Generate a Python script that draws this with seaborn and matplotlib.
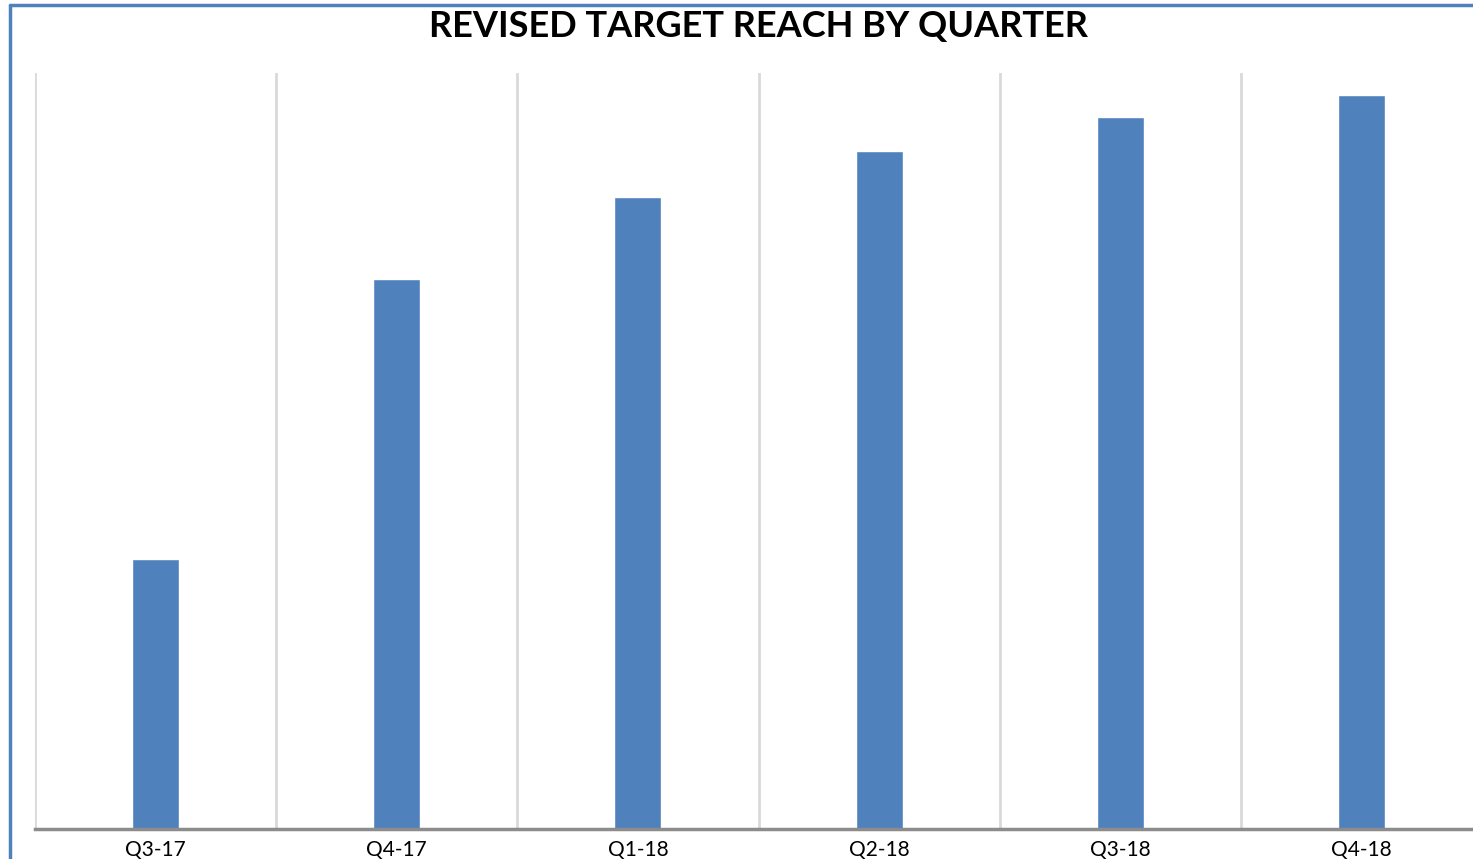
import matplotlib
matplotlib.use("Agg")
import matplotlib.pyplot as plt
import seaborn as sns
import pandas as pd
from matplotlib.lines import Line2D

quarters = ["Q3-17", "Q4-17", "Q1-18", "Q2-18", "Q3-18", "Q4-18"]
reach = [270, 550, 632, 678, 712, 734]
y_top = 756

df = pd.DataFrame({"quarter": quarters, "reach": reach})

sns.set_style("white")
plt.rcParams["font.family"] = ["Lato", "DejaVu Sans"]

fig = plt.figure(figsize=(14.73, 8.59), dpi=100)
ax = fig.add_axes([35 / 1473, 30 / 859, (1482 - 35) / 1473, (829 - 73) / 859])

sns.barplot(data=df, x="quarter", y="reach", color="#4F81BD", saturation=1,
            width=0.195, ax=ax)

ax.set_xlim(-0.5, len(quarters) - 0.5)
ax.set_ylim(0, y_top)
ax.set_xticks(range(len(quarters)))
ax.set_xticklabels(quarters, fontsize=15, color="#000000")
ax.set_xticks([i - 0.5 for i in range(len(quarters) + 1)], minor=True)
ax.xaxis.grid(True, which="minor", color="#D9D9D9", linewidth=2)
ax.set_axisbelow(True)
ax.tick_params(axis="x", which="both", length=0, pad=8)
ax.set_yticks([])
ax.set_xlabel("")
ax.set_ylabel("")
for side in ["left", "right", "top"]:
    ax.spines[side].set_visible(False)
ax.spines["bottom"].set_color("#8C8C8C")
ax.spines["bottom"].set_linewidth(2.5)

fig.text(758 / 1473, 1 - 27 / 859, "REVISED TARGET REACH BY QUARTER",
         ha="center", va="center", fontsize=26, fontweight="bold", color="#000000")

# chart frame (left and top edges visible in the crop)
fig.add_artist(Line2D([10 / 1473, 10 / 1473], [0, 1 - 5 / 859],
                      transform=fig.transFigure, color="#4F81BD", linewidth=2.5))
fig.add_artist(Line2D([10 / 1473, 1], [1 - 5 / 859, 1 - 5 / 859],
                      transform=fig.transFigure, color="#4F81BD", linewidth=2.5))

fig.savefig("out.png", dpi=100)
